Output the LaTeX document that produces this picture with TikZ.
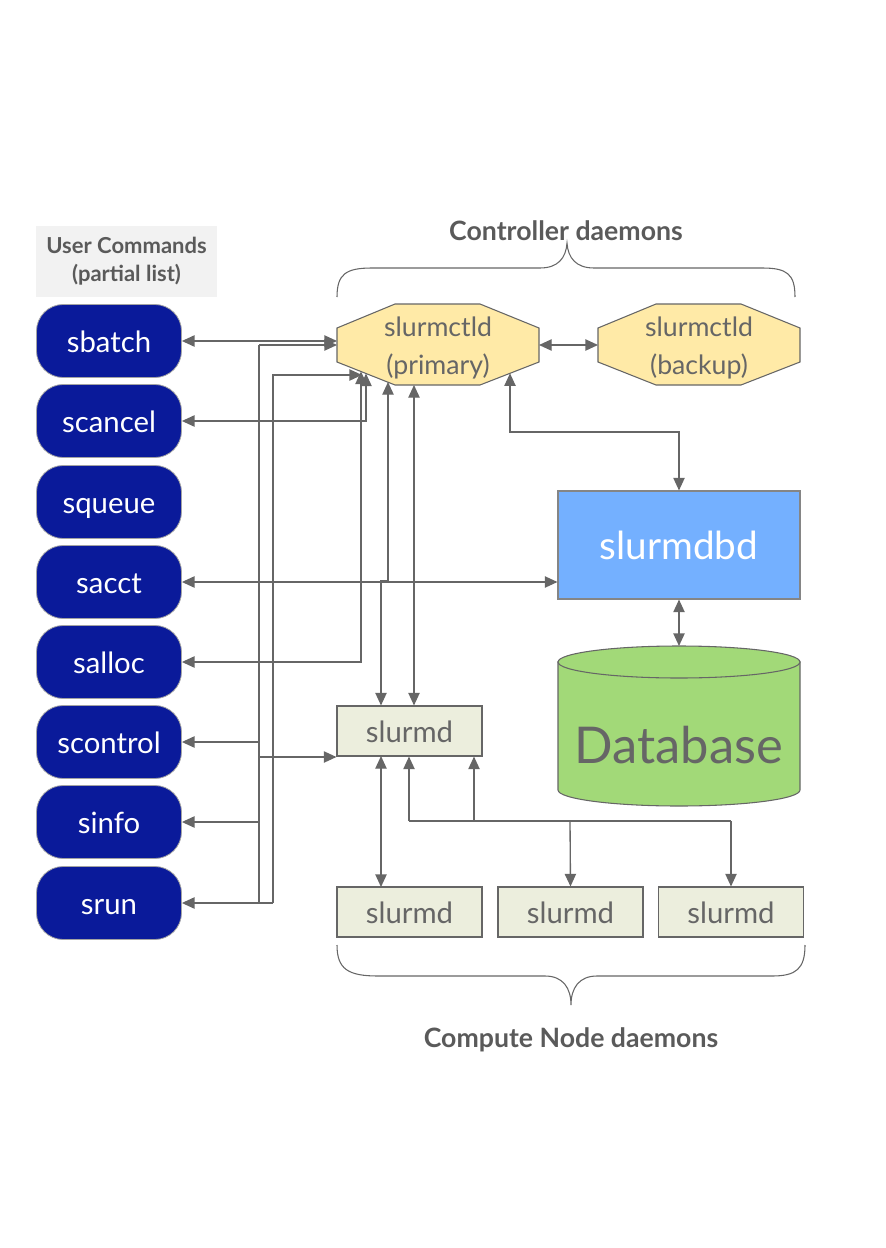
\documentclass[tikz,border=0pt]{standalone}
\usepackage{fontspec}
\setmainfont{Lato}
\usetikzlibrary{arrows.meta,calc}
\definecolor{ln}{HTML}{666666}
\definecolor{txt}{HTML}{666666}
\definecolor{hdtxt}{HTML}{5A5A5A}
\definecolor{cmdblue}{HTML}{0A1A9A}
\definecolor{octfill}{HTML}{FFEAA7}
\definecolor{mdfill}{HTML}{ECEEDD}
\definecolor{dbdfill}{HTML}{74B0FF}
\definecolor{dbfill}{HTML}{A2D978}
\definecolor{ucfill}{HTML}{F2F2F2}
\tikzset{
  cmd/.style={rounded corners=20pt, fill=cmdblue, draw=ln!60, line width=0.6pt,
    minimum width=108.75pt, minimum height=54.75pt, inner sep=0pt, text=white,
    text height=16.5pt, text depth=0pt,
    font=\fontsize{22}{26}\selectfont},
  mdbox/.style={fill=mdfill, draw=ln, line width=0.8pt, minimum width=108.75pt,
    minimum height=37.5pt, inner sep=0pt, text=txt, text height=16.5pt, text depth=0pt,
    font=\fontsize{22}{26}\selectfont},
  octtext/.style={inner sep=0pt,
    text=txt, align=center, font=\fontsize{20}{28.5}\selectfont},
  octpath/.style={fill=octfill, draw=ln, line width=0.8pt},
  hd/.style={text=hdtxt, font=\fontsize{20}{24}\selectfont\bfseries, inner sep=0pt},
  conn/.style={draw=ln, line width=1pt},
  tip/.style={-{Triangle[length=9.5pt,width=8.5pt]}},
  tips/.style={{Triangle[length=9.5pt,width=8.5pt]}-{Triangle[length=9.5pt,width=8.5pt]}},
  brace/.style={draw=ln, line width=0.8pt},
}
\begin{document}
\begin{tikzpicture}[x=0.75pt,y=-0.75pt]
\useasboundingbox (0,0) rectangle (885,1248);

% user commands header
\node[fill=ucfill, minimum width=135.75pt, minimum height=53.25pt, inner sep=0pt,
  text=hdtxt, align=center, font=\fontsize{16.5}{21}\selectfont\bfseries] (uc) at (126.5,261.5)
  {User Commands\\(partial list)};

% commands
\node[cmd] (sbatch) at (109,341) {sbatch};
\node[cmd] (scancel) at (109,421) {scancel};
\node[cmd] (squeue) at (109,502) {squeue};
\node[cmd] (sacct) at (109,582) {sacct};
\node[cmd] (salloc) at (109,662) {salloc};
\node[cmd] (scontrol) at (109,742) {scontrol};
\node[cmd] (sinfo) at (109,822) {sinfo};
\node[cmd] (srun) at (109,903) {srun};

% controller octagons
\path[octpath] (395,304) -- (480,304) -- (539,328) -- (539,362) -- (480,385) -- (395,385) -- (337,362) -- (337,328) -- cycle;
\node[octtext] (ctl) at (438,348) {slurmctld\\(primary)};
\path[octpath] (656,304) -- (741,304) -- (800,328) -- (800,362) -- (741,385) -- (656,385) -- (598,362) -- (598,328) -- cycle;
\node[octtext] (bak) at (699,348) {slurmctld\\(backup)};

% slurmdbd and database
\node[fill=dbdfill, draw=ln!80, line width=0.8pt, minimum width=181.5pt, minimum height=81pt,
  inner sep=0pt, text=white, font=\fontsize{29}{34}\selectfont] (dbd) at (679,545) {slurmdbd};
\path[fill=dbfill, draw=ln, line width=0.8pt] (558,662) -- (558,790)
  arc[start angle=180, end angle=0, x radius=121, y radius=16] -- (800,662) -- cycle;
\path[fill=dbfill, draw=ln, line width=0.8pt] (679,662) ellipse [x radius=121, y radius=16];
\node[minimum width=181.5pt, minimum height=120pt, inner sep=0pt] (db) at (679,726) {};
\node[inner sep=0pt, text=txt, font=\fontsize{38}{44}\selectfont] (dbl) at (679,745) {Database};

% slurmd boxes
\node[mdbox] (mdT) at (409.5,731) {slurmd};
\node[mdbox] (md1) at (409.5,912) {slurmd};
\node[mdbox] (md2) at (570.5,912) {slurmd};
\node[mdbox] (md3) at (731,912) {slurmd};

% headings and braces
\node[hd] (ctlhd) at (566,231) {Controller daemons};
\node[hd] (cnhd) at (571,1040) {Compute Node daemons};
\path[brace] (337,297) .. controls (337,274) and (346,268) .. (372,268) -- (540,268)
  .. controls (558,268) and (566,258) .. (567,243)
  .. controls (568,258) and (576,268) .. (594,268) -- (762,268)
  .. controls (787,268) and (795,274) .. (795,297);
\path[brace] (337,945) .. controls (337,969) and (348,976) .. (378,976) -- (545,976)
  .. controls (563,976) and (571,988) .. (571,1005)
  .. controls (571,988) and (579,976) .. (597,976) -- (772,976)
  .. controls (796,976) and (805,969) .. (805,945);

% coordinates on the primary octagon
\coordinate (cW1) at (337,341);
\coordinate (cW2) at (337,345);
\coordinate (cB0) at (362,375);
\coordinate (cB1) at (361,371.5);
\coordinate (cB2) at (366,373.5);
\coordinate (cB3) at (388,382);
\coordinate (cB4) at (414,385);
\coordinate (cB5) at (510,373.3);
\coordinate (cE) at (539,345);
\coordinate (bW) at (598,345);
% bus coordinates
\coordinate (b1top) at (259,345);
\coordinate (b1bot) at (259,903);
\coordinate (b1sc) at (259,742);
\coordinate (b1si) at (259,822);
\coordinate (b1md) at (259,757);
\coordinate (b2bot) at (273,903);
\coordinate (j1) at (381,581);
\coordinate (j2) at (679,432);
\coordinate (k0) at (409,821);
\coordinate (k1) at (474,821);
\coordinate (k2) at (570,821);
\coordinate (k3) at (731,821);

% connectors
\draw[conn,tips] (sbatch.east) -- (cW1);
\draw[conn,tip] (b1top) -- (cW2);
\draw[conn] (b1top) -- (b1bot);
\draw[conn,tip] (b1sc) -- (scontrol.east);
\draw[conn,tip] (b1si) -- (sinfo.east);
\draw[conn,tip] (b2bot) -- (srun.east);
\draw[conn,tip] (b1md) -- (b1md -| mdT.west);
\draw[conn,tip] (b2bot) |- (cB0);
\draw[conn,tips] (cB2) |- (scancel.east);
\draw[conn,tips] (cB1) |- (salloc.east);
\draw[conn,tips] (sacct.east) -- (sacct.east -| dbd.west);
\draw[conn,tips] (cB3) |- (j1) -- (j1 |- mdT.north);
\draw[conn,tips] (cB4) -- (cB4 |- mdT.north);
\draw[conn,tips] (cB5) -- (cB5 |- j2) -| (dbd.north);
\draw[conn,tips] (cE) -- (bW);
\draw[conn,tips] (dbd.south) -- (679,646);
\draw[conn,tips] (381,756) -- (381,887);
\draw[conn,tip] (k0) -- (k0 |- mdT.south);
\draw[conn,tip] (k1) -- (k1 |- mdT.south);
\draw[conn] (k0) -- (k3);
\draw[conn,tip] (k2) -- (md2.north);
\draw[conn,tip] (k3) -- (md3.north);
\end{tikzpicture}
\end{document}
